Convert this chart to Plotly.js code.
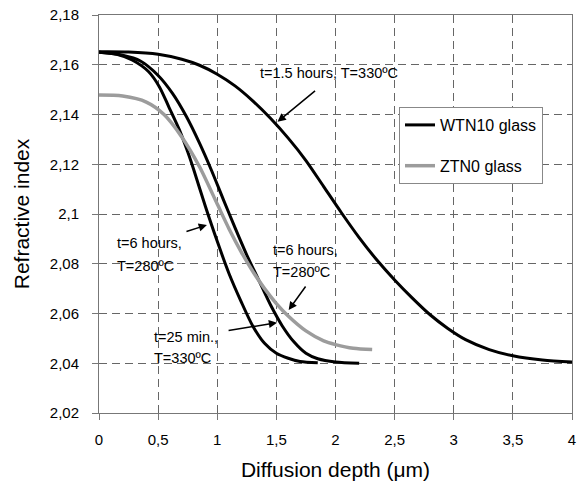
<!DOCTYPE html>
<html>
<head>
<meta charset="utf-8">
<script src="https://cdn.plot.ly/plotly-3.0.1.min.js"></script>
<style>html,body{margin:0;padding:0;background:#fff;}#chart{width:578px;height:493px;}</style>
</head>
<body>
<div id="chart"></div>
<script>
// Curve: t=1.5 hours, T=330ºC (WTN10)
const xA = [0, 0.25, 0.5, 0.7, 0.85, 1.0, 1.15, 1.3, 1.45, 1.6, 1.75, 1.9, 2.05, 2.2, 2.35, 2.5, 2.65, 2.8, 2.95, 3.1, 3.3, 3.5, 3.75, 4.0];
const yA = [2.1652, 2.1651, 2.1642, 2.1622, 2.1598, 2.1562, 2.1515, 2.1455, 2.1385, 2.1305, 2.1215, 2.1110, 2.1005, 2.0905, 2.0815, 2.0735, 2.0662, 2.0595, 2.0540, 2.0495, 2.0455, 2.0430, 2.0413, 2.0405];
// Curve: t=6 hours, T=280ºC (WTN10)
const xB = [0, 0.15, 0.28, 0.42, 0.51, 0.59, 0.68, 0.75, 0.8, 0.9, 1.0, 1.1, 1.2, 1.3, 1.4, 1.5, 1.6, 1.7, 1.85];
const yB = [2.165, 2.1642, 2.1619, 2.1572, 2.1512, 2.1431, 2.1338, 2.1250, 2.118, 2.103, 2.089, 2.076, 2.065, 2.055, 2.048, 2.044, 2.042, 2.0407, 2.0402];
// Curve: t=25 min., T=330ºC (WTN10)
const xC = [0, 0.2, 0.35, 0.5, 0.62, 0.74, 0.85, 0.95, 1.05, 1.15, 1.25, 1.35, 1.45, 1.55, 1.65, 1.75, 1.85, 2.0, 2.2];
const yC = [2.165, 2.1638, 2.1615, 2.1557, 2.1486, 2.1391, 2.1285, 2.1177, 2.1060, 2.0945, 2.0835, 2.0735, 2.0635, 2.0550, 2.0485, 2.0440, 2.0418, 2.0405, 2.0400];
// Curve: t=6 hours, T=280ºC (ZTN0)
const xD = [0, 0.2, 0.4, 0.55, 0.7, 0.85, 1.0, 1.1, 1.2, 1.3, 1.4, 1.5, 1.6, 1.75, 1.9, 2.0, 2.15, 2.31];
const yD = [2.1478, 2.1474, 2.1450, 2.140, 2.131, 2.119, 2.104, 2.094, 2.085, 2.077, 2.070, 2.064, 2.059, 2.053, 2.049, 2.0475, 2.046, 2.0455];

const xTickVals = [0, 0.5, 1, 1.5, 2, 2.5, 3, 3.5, 4];
const xTickText = ['0', '0,5', '1', '1,5', '2', '2,5', '3', '3,5', '4'];
const yTickVals = [2.02, 2.04, 2.06, 2.08, 2.10, 2.12, 2.14, 2.16, 2.18];
const yTickText = ['2,02', '2,04', '2,06', '2,08', '2,1', '2,12', '2,14', '2,16', '2,18'];

const seriesNames = ['WTN10 glass', 'ZTN0 glass'];

const FONT = 'Liberation Sans, Arial, sans-serif';
const black = '#000000';
const gray = '#9c9c9c';

function curve(x, y, color, width, name, group, show) {
  return {x: x, y: y, type: 'scatter', mode: 'lines', name: name,
    legendgroup: group, showlegend: show,
    line: {color: color, width: width, shape: 'spline', smoothing: 0.8},
    hoverinfo: 'skip'};
}

const data = [
  curve(xA, yA, black, 3, seriesNames[0], 'w', true),
  curve(xB, yB, black, 3, seriesNames[0], 'w', false),
  curve(xC, yC, black, 3, seriesNames[0], 'w', false),
  curve(xD, yD, gray, 3.5, seriesNames[1], 'z', true)
];

function label(x, y, text) {
  return {xref: 'paper', yref: 'paper', x: x, y: y, text: text, showarrow: false,
    xanchor: 'left', yanchor: 'middle', align: 'left',
    font: {family: FONT, size: 14.5, color: '#000'}};
}
function arrow(x, y, ax, ay) {
  return {x: x, y: y, ax: ax, ay: ay, axref: 'pixel', ayref: 'pixel', text: '', showarrow: true,
    arrowhead: 2, arrowsize: 1.1, arrowwidth: 1.5, arrowcolor: '#000', standoff: 0, startstandoff: 0};
}
// paper coordinate helpers from pixel positions of the picture
function px(xp) { return (xp - 99) / 473; }
function py(yp) { return (413 - yp) / 398; }

const annotations = [
  label(px(258), py(73), 't=1.5 hours, T=330ºC'),
  arrow(1.51, 2.1371, 39, -32),
  label(px(115), py(243), 't=6 hours,'),
  label(px(115), py(266), 'T=280ºC'),
  arrow(0.913, 2.0956, -22, 7),
  label(px(152), py(337), 't=25 min.,'),
  label(px(152), py(358), 'T=330ºC'),
  arrow(1.506, 2.0563, -50, 8),
  label(px(271), py(250), 't=6 hours,'),
  label(px(271), py(272), 'T=280ºC'),
  arrow(1.604, 2.0614, 18, -25)
];

const layout = {
  width: 578, height: 493,
  margin: {l: 99, r: 6, t: 15, b: 80},
  paper_bgcolor: '#ffffff', plot_bgcolor: '#ffffff',
  font: {family: FONT, color: '#000'},
  showlegend: true,
  legend: {x: px(399), y: py(107), xanchor: 'left', yanchor: 'top',
    bgcolor: '#ffffff', bordercolor: '#888', borderwidth: 1,
    font: {family: FONT, size: 16, color: '#000'},
    traceorder: 'grouped', tracegroupgap: 17, itemwidth: 30},
  xaxis: {range: [0, 4], tickvals: xTickVals, ticktext: xTickText,
    showline: true, linecolor: '#777', linewidth: 1, mirror: true,
    ticks: 'outside', ticklen: 6, tickcolor: '#777', ticklabelstandoff: 7,
    showgrid: true, gridcolor: '#666', gridwidth: 1, griddash: '8px,5px',
    zeroline: false, tickfont: {family: FONT, size: 15, color: '#000'},
    title: {text: 'Diffusion depth (μm)', font: {family: FONT, size: 21, color: '#000'}, standoff: 15},
    automargin: false, fixedrange: true},
  yaxis: {range: [2.02, 2.18], tickvals: yTickVals, ticktext: yTickText,
    showline: true, linecolor: '#777', linewidth: 1, mirror: true,
    ticks: 'outside', ticklen: 6, tickcolor: '#777', ticklabelstandoff: 10,
    showgrid: true, gridcolor: '#666', gridwidth: 1, griddash: '8px,5px',
    zeroline: false, tickfont: {family: FONT, size: 15, color: '#000'},
    title: {text: 'Refractive index', font: {family: FONT, size: 21, color: '#000'}, standoff: 14},
    automargin: false, fixedrange: true},
  annotations: annotations
};

Plotly.newPlot('chart', data, layout, {displayModeBar: false, staticPlot: true});
</script>
</body>
</html>
